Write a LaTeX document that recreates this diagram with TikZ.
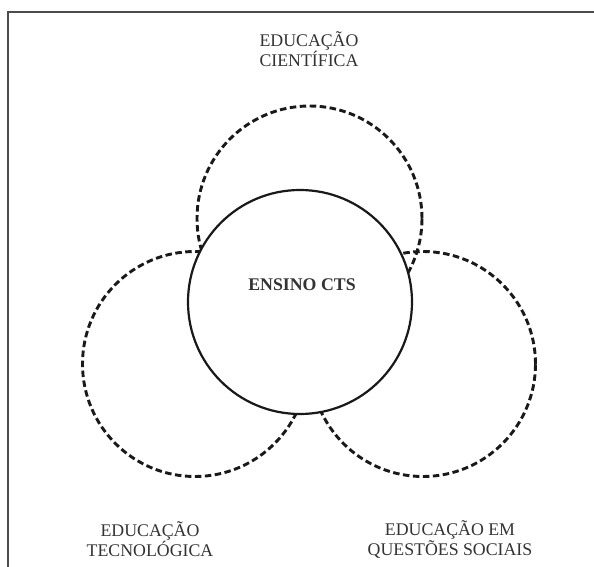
\documentclass[tikz,border=0pt]{standalone}
\usepackage{fontspec}
\setmainfont{Liberation Serif}
\tikzset{
  area/.style={circle,draw=black!90,line width=2.9pt,dash pattern=on 6.5pt off 3.5pt,
    minimum size=225pt,inner sep=0pt},
  nucleo/.style={circle,draw=black!90,fill=white,line width=2.2pt,
    minimum size=224pt,inner sep=0pt},
  rotulo/.style={align=center,text=black!80,inner sep=0pt,
    font=\fontsize{17.8}{20}\selectfont},
}
\begin{document}
\begin{tikzpicture}[x=1pt,y=-1pt]
    \useasboundingbox (0,0) rectangle (594,567);
    % moldura
    \draw[black!70,line width=1.2pt] (594,12) -- (8,12) -- (8,567);

    \foreach \nome/\x/\y in {cient/309.5/218.5, tecno/195/364, social/423/364}
    {
      \node[area] (\nome) at (\x,\y) {};
    };

    \node[nucleo] (cts) at (300,302) {};
    \node[rotulo,font=\fontsize{17.8}{20}\selectfont\bfseries] (lcts) at (302,285) {ENSINO CTS};

    \node[rotulo] (lcient) at (309,49) {EDUCAÇÃO\\CIENTÍFICA};
    \node[rotulo] (ltecno) at (150,539) {EDUCAÇÃO\\TECNOLÓGICA};
    \node[rotulo] (lsocial) at (450,539) {EDUCAÇÃO EM\\QUESTÕES SOCIAIS};
\end{tikzpicture}
\end{document}
